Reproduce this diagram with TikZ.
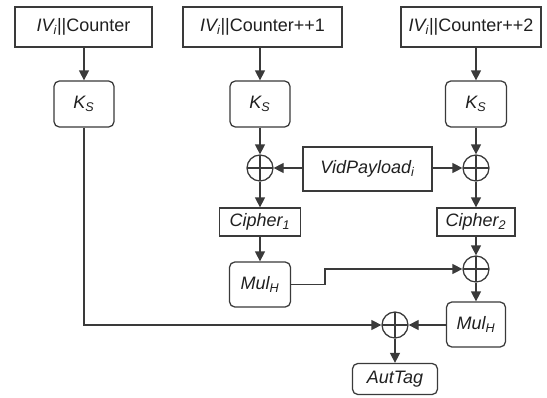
\documentclass[tikz,border=0pt]{standalone}
\usepackage{fontspec}
\setmainfont{Liberation Sans}
\usetikzlibrary{arrows.meta,calc}
\definecolor{ln}{HTML}{3A3A3A}
\definecolor{tx}{HTML}{202020}
\tikzset{
  base/.style={draw=ln, line width=0.95pt, inner sep=0pt, font=\fontsize{13.5}{16}\selectfont, text=tx},
  sqbox/.style={base, rectangle},
  rdbox/.style={base, rectangle, rounded corners=4pt},
  xorop/.style={draw=ln, line width=0.95pt, circle, minimum size=26*0.75pt, inner sep=0pt,
    path picture={\draw[ln, line width=0.95pt] (path picture bounding box.north) -- (path picture bounding box.south)
      (path picture bounding box.west) -- (path picture bounding box.east);}},
  conn/.style={draw=ln, line width=0.95pt, -{Triangle[length=7.5pt,width=7.5pt]}},
}
\begin{document}
\begin{tikzpicture}[x=0.75pt,y=-0.75pt]
\useasboundingbox[fill=white] (0,0) rectangle (547,397);
% top boxes
\node[sqbox, minimum width=137*0.75pt, minimum height=40*0.75pt] (b1) at (83.5,27) {\textit{IV\textsubscript{i}}||Counter};
\node[sqbox, minimum width=159*0.75pt, minimum height=40*0.75pt] (b2) at (262.5,27) {\textit{IV\textsubscript{i}}||Counter++1};
\node[sqbox, minimum width=140*0.75pt, minimum height=40*0.75pt] (b3) at (471,27) {\textit{IV\textsubscript{i}}||Counter++2};
% key boxes
\node[rdbox, minimum width=60*0.75pt, minimum height=46*0.75pt] (k1) at (84,104) {\textit{K\textsubscript{S}}};
\node[rdbox, minimum width=60*0.75pt, minimum height=46*0.75pt] (k2) at (260,104) {\textit{K\textsubscript{S}}};
\node[rdbox, minimum width=61*0.75pt, minimum height=46*0.75pt] (k3) at (476,104) {\textit{K\textsubscript{S}}};
% xor row
\node[xorop] (x1) at (260,168) {};
\node[xorop] (x2) at (476,168) {};
\node[sqbox, minimum width=129*0.75pt, minimum height=44*0.75pt] (vp) at (367.5,169) {\textit{VidPayload\textsubscript{i}}};
% cipher
\node[sqbox, minimum width=81*0.75pt, minimum height=28*0.75pt] (c1) at (260,222) {\textit{Cipher\textsubscript{1}}};
\node[sqbox, minimum width=78*0.75pt, minimum height=28*0.75pt] (c2) at (476,222) {\textit{Cipher\textsubscript{2}}};
% mul
\node[rdbox, minimum width=61*0.75pt, minimum height=45*0.75pt] (m1) at (260,284.5) {\textit{Mul\textsubscript{H}}};
\node[xorop] (x3) at (476,269) {};
\node[rdbox, minimum width=59*0.75pt, minimum height=45*0.75pt] (m2) at (476,324.5) {\textit{Mul\textsubscript{H}}};
\node[xorop] (x4) at (395,325) {};
\node[rdbox, minimum width=85*0.75pt, minimum height=31*0.75pt] (at) at (395,379) {\textit{AutTag}};
\coordinate (bend) at (325,284.5);
% connectors
\draw[conn] (b1.south -| k1.north) -- (k1.north);
\draw[conn] (b2.south -| k2.north) -- (k2.north);
\draw[conn] (b3.south -| k3.north) -- (k3.north);
\draw[conn] (k2) -- (x1);
\draw[conn] (k3) -- (x2);
\draw[conn] (vp.west |- x1) -- (x1);
\draw[conn] (vp.east |- x2) -- (x2);
\draw[conn] (x1) -- (c1);
\draw[conn] (x2) -- (c2);
\draw[conn] (c1) -- (m1);
\draw[conn] (c2) -- (x3);
\draw[conn] (m1.east) -- (bend) -- (bend |- x3) -- (x3);
\draw[conn] (x3) -- (m2);
\draw[conn] (m2.west |- x4) -- (x4);
\draw[conn] (k1.south) -- (k1.south |- x4) -- (x4);
\draw[conn] (x4) -- (at);
\end{tikzpicture}
\end{document}
